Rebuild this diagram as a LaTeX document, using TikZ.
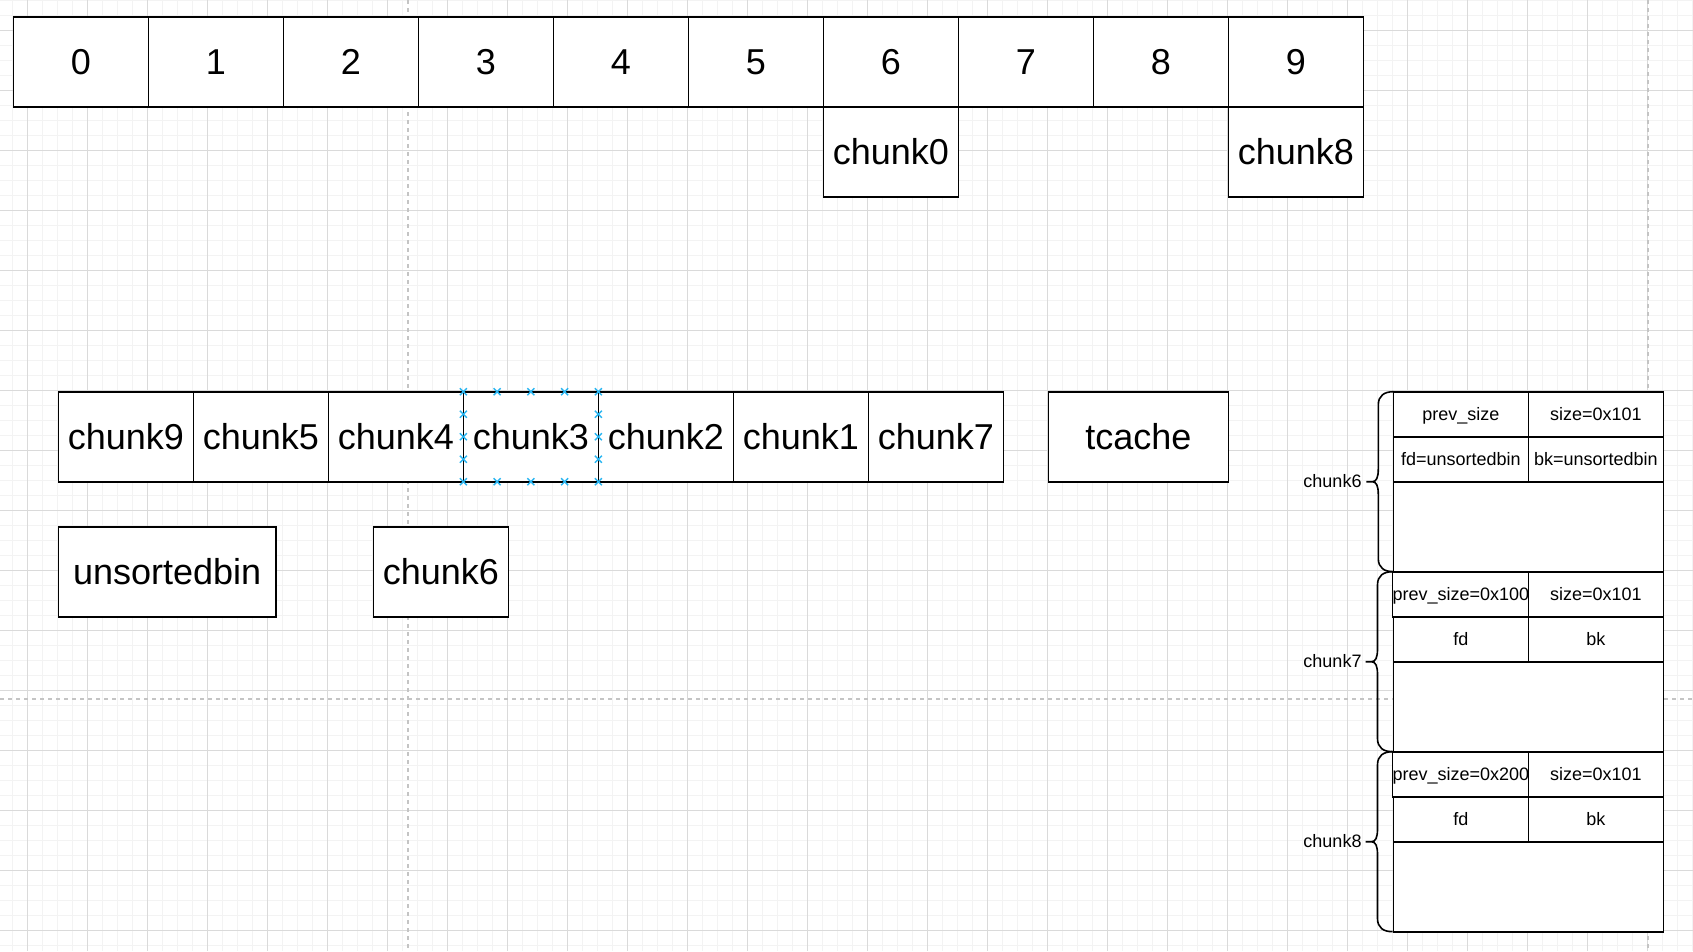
\documentclass[tikz,border=0pt]{standalone}
\usepackage{fontspec}
\setmainfont{Liberation Sans}
\usetikzlibrary{positioning,calc}
\definecolor{gridmajor}{HTML}{DADADA}
\definecolor{gridminor}{HTML}{F3F3F3}
\definecolor{pageline}{HTML}{C4C4C4}
\definecolor{handle}{HTML}{29B6F2}
\begin{document}
\begin{tikzpicture}[x = 1pt, y = -1pt,
    cell/.style = {draw, fill = white, line width = 1.6pt, inner sep = 0pt, outer sep = 0pt,
        minimum width = 135pt, minimum height = 90pt,
        font = \fontsize{36}{36}\selectfont, text height = 32.4pt, text depth = 7.45pt},
    field/.style = {draw, fill = white, line width = 1.6pt, inner sep = 0pt, outer sep = 0pt,
        minimum width = 135pt, minimum height = 45pt,
        font = \fontsize{18}{18}\selectfont, text height = 16.2pt, text depth = 3.73pt},
    body/.style = {field, minimum width = 270pt, minimum height = 90pt},
    tag/.style = {inner sep = 0pt, anchor = east,
        font = \fontsize{18}{18}\selectfont, text height = 16.2pt, text depth = 3.73pt},
    brace/.style = {line width = 1.6pt, line join = round},
    handlemark/.style = {handle, line width = 1.4pt}
]
    \useasboundingbox (0, 0) rectangle (1693, 951);
    \fill [white] (0, 0) rectangle (1693, 951);
    % canvas grid
    \foreach \gx in {12.3, 27.3, ..., 1693}
        \draw [gridminor, line width = 1pt] (\gx, 0) -- (\gx, 951);
    \foreach \gy in {0.7, 15.7, ..., 951}
        \draw [gridminor, line width = 1pt] (0, \gy) -- (1693, \gy);
    \foreach \gx in {27.3, 87.3, ..., 1693}
        \draw [gridmajor, line width = 1pt] (\gx, 0) -- (\gx, 951);
    \foreach \gy in {30.7, 90.7, ..., 951}
        \draw [gridmajor, line width = 1pt] (0, \gy) -- (1693, \gy);
    \draw [pageline, line width = 1.5pt, dash pattern = on 4pt off 4pt]
        (408, 0) -- (408, 951)
        (1648, 0) -- (1648, 951)
        (0, 699) -- (1693, 699)
    ;

    % index array
    \foreach \i in {0, ..., 9}
        \node [cell] (idx\i) at ({80.8 + 135*\i}, 61.7) {\i};
    \node [cell, below = 0pt of idx6] (slot6) {chunk0};
    \node [cell, below = 0pt of idx9] (slot9) {chunk8};

    % bins
    \foreach \c [count = \k from 0] in {9, 5, 4, 3, 2, 1, 7}
        \node [cell] (c\c) at ({125.8 + 135*\k}, 436.7) {chunk\c};
    \node [cell, minimum width = 180pt] (tcache) at (1138.3, 436.7) {tcache};
    \node [cell, minimum width = 217.7pt] (unsorted) at (167.2, 571.7) {unsortedbin};
    \node [cell] (freed6) at (440.8, 571.7) {chunk6};

    % selection handles
    \foreach \f in {0, 0.25, 0.5, 0.75, 1} {
        \draw [handlemark] ($(c3.north west)!\f!(c3.north east)$) +(-3.5, -3.5) -- +(3.5, 3.5) +(-3.5, 3.5) -- +(3.5, -3.5);
        \draw [handlemark] ($(c3.south west)!\f!(c3.south east)$) +(-3.5, -3.5) -- +(3.5, 3.5) +(-3.5, 3.5) -- +(3.5, -3.5);
    }
    \foreach \f in {0.25, 0.5, 0.75} {
        \draw [handlemark] ($(c3.north west)!\f!(c3.south west)$) +(-3.5, -3.5) -- +(3.5, 3.5) +(-3.5, 3.5) -- +(3.5, -3.5);
        \draw [handlemark] ($(c3.north east)!\f!(c3.south east)$) +(-3.5, -3.5) -- +(3.5, 3.5) +(-3.5, 3.5) -- +(3.5, -3.5);
    }

    % heap layout
    \foreach \c/\prev/\fd/\bk [count = \r from 0] in
        {6/prev\_size/fd=unsortedbin/bk=unsortedbin,
         7/prev\_size=0x100/fd/bk,
         8/prev\_size=0x200/fd/bk} {
        \node [field] (prev\c) at (1460.8, {414.2 + 180*\r}) {\prev};
        \node [field] (size\c) at (1595.8, {414.2 + 180*\r}) {size=0x101};
        \node [field] (fd\c) at (1460.8, {459.2 + 180*\r}) {\fd};
        \node [field] (bk\c) at (1595.8, {459.2 + 180*\r}) {\bk};
        \node [body] (data\c) at (1528.3, {526.7 + 180*\r}) {};
        \node [tag] (lbl\c) at (1361.7, {481.7 + 180*\r}) {chunk\c};
        \draw [brace, shift = {(prev\c.north west)}]
            (0, 0) .. controls (-9, 0) and (-15, 4) .. (-15, 13) -- (-15, 77)
            .. controls (-15, 86) and (-17, 90) .. (-21, 90) -- (-27, 90)
            (-21, 90) .. controls (-17, 90) and (-15, 94) .. (-15, 103) -- (-15, 167)
            .. controls (-15, 176) and (-9, 180) .. (0, 180)
        ;
    }
\end{tikzpicture}
\end{document}
